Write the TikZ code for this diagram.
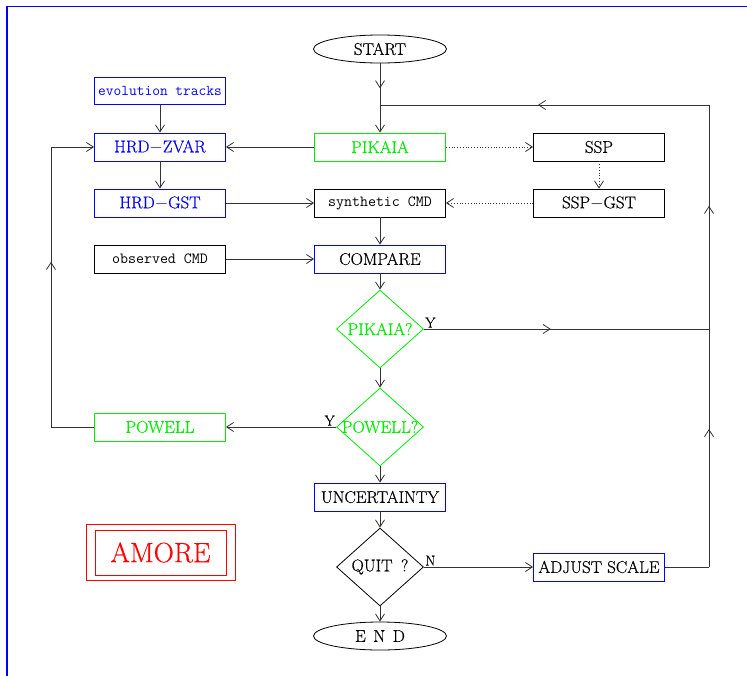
\documentclass[tikz,border=0pt]{standalone}
\usepackage{fontspec}
\setmainfont{Latin Modern Roman}[FakeBold=0.5]
\setmonofont{Latin Modern Mono}
\usetikzlibrary{shapes.geometric,arrows.meta,decorations.markings}
\definecolor{grn}{RGB}{0,235,0}
\definecolor{blu}{RGB}{0,0,255}
\definecolor{rd}{RGB}{255,0,0}
\begin{document}
\begin{tikzpicture}[x=1pt,y=-1pt,
  tip/.tip={Straight Barb[length=7pt,width=9pt]},
  conn/.style={draw=black!80, line width=0.8pt},
  arr/.style={conn, -{tip}},
  midarrow/.style={postaction={decorate}, decoration={markings, mark=at position #1 with {\arrow{tip}}}},
  midarrow/.default=0.5,
  box/.style={draw, line width=0.8pt, rectangle, minimum width=131pt, minimum height=28pt, inner sep=0pt, font=\fontsize{17}{19}\selectfont},
  ttbox/.style={box, font=\fontsize{15.5}{17}\selectfont\ttfamily},
  dia/.style={diamond, draw, line width=0.8pt, minimum width=87pt, minimum height=78pt, inner sep=0pt, font=\fontsize{17}{19}\selectfont},
  oval/.style={ellipse, draw, line width=0.8pt, minimum width=133pt, minimum height=28pt, inner sep=0pt, font=\fontsize{17}{19}\selectfont},
  lbl/.style={font=\fontsize{14.5}{16}\selectfont, inner sep=0pt}
]
\useasboundingbox (0,0) rectangle (747,675);
\draw[blu, line width=1.8pt] (7,760) -- (7,6.5) -- (800,6.5);

\node[oval] (start) at (380,49) {START};
\node[ttbox, draw=blu, text=blu, minimum height=27pt, font=\fontsize{15}{17}\selectfont\ttfamily] (evo) at (160,90.5) {evolution tracks};
\node[box, draw=blu, text=blu] (zvar) at (160,147) {HRD$-$ZVAR};
\node[box, draw=grn, text=grn] (pik) at (380,147) {PIKAIA};
\node[box] (ssp) at (599,147) {SSP};
\node[box, draw=blu, text=blu] (gst) at (160,203) {HRD$-$GST};
\node[ttbox] (syn) at (380,203) {synthetic CMD};
\node[box] (sspg) at (599,203) {SSP$-$GST};
\node[ttbox] (obs) at (160,259) {observed CMD};
\node[box, draw=blu] (cmp) at (380,259) {COMPARE};
\node[dia, draw=grn, text=grn] (pq) at (380,329) {\makebox[0pt]{PIKAIA?}};
\node[dia, draw=grn, text=grn] (wq) at (380,427) {\makebox[0pt]{POWELL?}};
\node[box, draw=grn, text=grn] (pow) at (160,427) {POWELL};
\node[box, draw=blu] (unc) at (380,497) {UNCERTAINTY};
\node[dia] (qq) at (380,567) {\makebox[0pt]{QUIT\hspace{0.5em}?}};
\node[box, draw=blu] (adj) at (599,567) {ADJUST SCALE};
\node[oval] (end) at (380,636) {E\hspace{0.45em}N\hspace{0.45em}D};
\node[draw=rd, text=rd, line width=0.8pt, minimum width=131pt, minimum height=45pt, inner sep=0pt, font=\fontsize{28}{30}\selectfont] (amore) at (160.5,552.5) {AMORE};
\draw[rd, line width=0.8pt] (86,524) rectangle (235,580);

\coordinate (j) at (380,105);
\coordinate (r1) at (709,567);
\coordinate (r2) at (709,329);
\coordinate (r3) at (709,105);
\coordinate (l1) at (51,427);
\coordinate (l2) at (51,147);

\draw[conn, midarrow=0.6] (start) -- (j);
\draw[arr] (j) -- (pik);
\draw[arr] (evo) -- (zvar);
\draw[arr] (pik) -- (zvar);
\draw[arr, dotted] (pik) -- (ssp);
\draw[arr, dotted] (ssp) -- (sspg);
\draw[arr, dotted] (sspg) -- (syn);
\draw[arr] (zvar) -- (gst);
\draw[arr] (gst) -- (syn);
\draw[arr] (syn) -- (cmp);
\draw[arr] (obs) -- (cmp);
\draw[arr] (cmp) -- (pq);
\draw[conn, midarrow=0.445] (pq.east) -- node[lbl, pos=0, anchor=south west, xshift=1pt, yshift=1pt] {Y} (r2);
\draw[arr] (pq) -- (wq);
\draw[arr] (wq.west) -- node[lbl, pos=0, anchor=south east, xshift=-1pt, yshift=1pt] {Y} (pow);
\draw[conn] (pow.west) -- (l1);
\draw[conn, midarrow=0.59] (l1) -- (l2);
\draw[arr] (l2) -- (zvar.west);
\draw[arr] (wq) -- (unc);
\draw[arr] (unc) -- (qq);
\draw[arr] (qq.east) -- node[lbl, pos=0, anchor=south west, xshift=1pt, yshift=1pt] {N} (adj);
\draw[arr] (qq) -- (end);
\draw[conn] (adj) -- (r1);
\draw[conn, midarrow=0.58] (r1) -- (r2);
\draw[conn, midarrow=0.55] (r2) -- (r3);
\draw[conn, midarrow=0.52] (r3) -- (j);
\end{tikzpicture}
\end{document}
